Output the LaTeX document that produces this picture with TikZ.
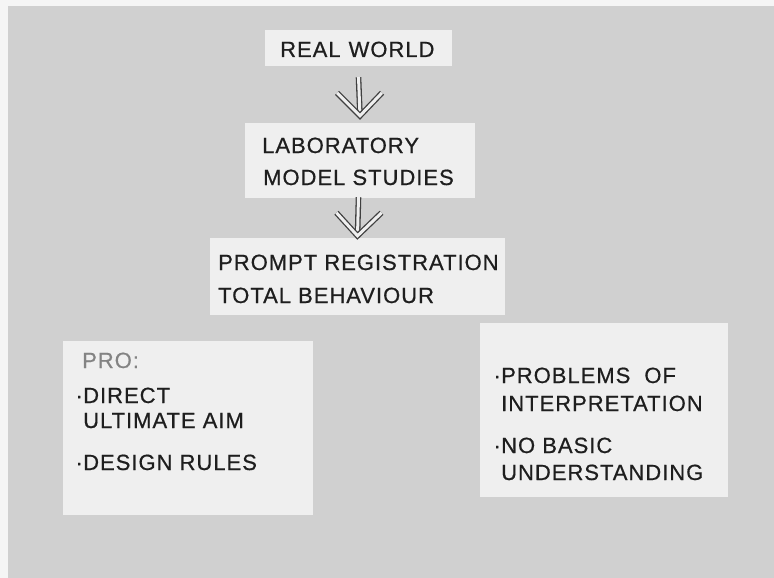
\documentclass[tikz,border=0pt]{standalone}
\usepackage{fontspec}
\setmainfont[LetterSpace=4.5, FakeBold=0.6]{Liberation Sans}
\definecolor{slidegrey}{HTML}{D0D0D0}
\definecolor{cardwhite}{HTML}{EFEFEF}
\definecolor{inkgrey}{HTML}{1E1E1E}
\tikzset{
  card/.style={fill=cardwhite, draw=none, inner sep=0pt},
  label/.style={anchor=base west, inner sep=0pt, text=inkgrey, font=\fontsize{22}{22}\selectfont},
  dblline/.style={draw=inkgrey!85, double=cardwhite, double distance=3pt, line width=1.3pt},
}
\def\wgap{\hspace{8pt}}

\begin{document}
\begin{tikzpicture}[x=1pt,y=-1pt]
\useasboundingbox (0,0) rectangle (774,578);
\fill[cardwhite!60!white] (0,0) rectangle (774,578);
\fill[slidegrey] (8,6) rectangle (774,578);
% cards
\node[card, minimum width=187pt, minimum height=36pt] (real) at (358.5,48) {};
\node[card, minimum width=230pt, minimum height=75pt] (lab) at (360,160.5) {};
\node[card, minimum width=295pt, minimum height=77pt] (prompt) at (357.5,276.5) {};
\node[card, minimum width=250pt, minimum height=174pt] (pro) at (188,428) {};
\node[card, minimum width=248pt, minimum height=174pt] (contra) at (604,410) {};
% texts
\node[label] (t-real) at (280,57) {REAL\wgap WORLD};
\node[label] (t-lab1) at (262,153) {LABORATORY};
\node[label] (t-lab2) at (263,185) {MODEL STUDIES};
\node[label] (t-pr1) at (218,270) {PROMPT REGISTRATION};
\node[label] (t-pr2) at (218,303) {TOTAL BEHAVIOUR};
\node[label, text=inkgrey!55] (t-pro) at (82,368) {PRO:};
\node[label, anchor=base east] (t-pro1) at (83,403) {\textperiodcentered};
\node[label] (t-pro1a) at (83,403) {DIRECT};
\node[label] (t-pro1b) at (83,428) {ULTIMATE AIM};
\node[label, anchor=base east] (t-pro2) at (83,470) {\textperiodcentered};
\node[label] (t-pro2a) at (83,470) {DESIGN RULES};
\node[label, anchor=base east] (t-con1) at (501,383) {\textperiodcentered};
\node[label] (t-con1a) at (501,383) {PROBLEMS\hspace{14pt}OF};
\node[label] (t-con1b) at (501,411) {INTERPRETATION};
\node[label, anchor=base east] (t-con2) at (501,453) {\textperiodcentered};
\node[label] (t-con2a) at (501,453) {NO BASIC};
\node[label] (t-con2b) at (501,480) {UNDERSTANDING};
% arrows
\draw[dblline] ([yshift=-11pt]real.south) -- ([yshift=7pt]lab.north) coordinate (h1);
\draw[dblline] (h1) ++(-23,-23) -- (h1) -- ++(22,-23);
\draw[dblline] ([xshift=-1.5pt,yshift=1pt]lab.south) -- ([yshift=2pt]prompt.north) coordinate (h2);
\draw[dblline] (h2) ++(-21,-23) -- (h2) -- ++(24,-23);
\end{tikzpicture}
\end{document}
